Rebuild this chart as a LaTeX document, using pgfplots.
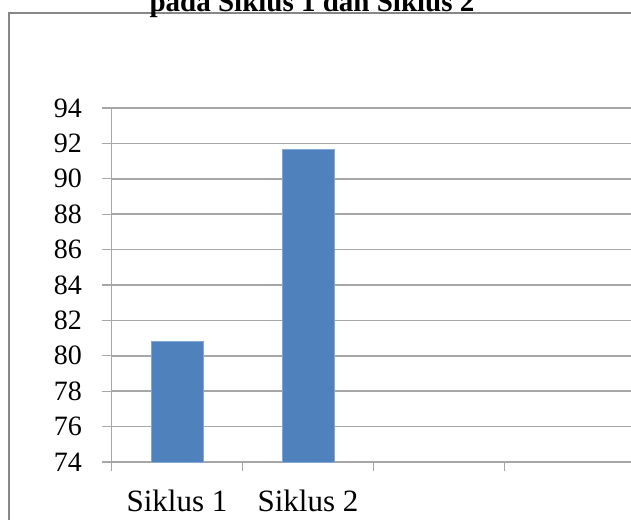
\documentclass[border=0pt]{standalone}
\usepackage{fontspec}
\setmainfont{Liberation Serif}
\usepackage{pgfplots}
\pgfplotsset{compat=1.18}
\definecolor{barblue}{HTML}{4F81BD}
\definecolor{gridgray}{HTML}{A6A6A6}
\definecolor{framegray}{HTML}{878787}

\begin{document}
\begin{tikzpicture}[x=1pt,y=1pt]
\useasboundingbox (0,0) rectangle (631,519);
\clip (0,0) rectangle (631,519);
% outer chart frame, runs off the right and bottom edge
\draw[framegray, line width=2pt] (8.5,-20) -- (8.5,506) -- (660,506);
% title, cut at the top
\node[anchor=base, font=\fontsize{29}{34}\selectfont\bfseries] at (312,507)
  {pada Siklus 1 dan Siklus 2};
\begin{axis}[
    at={(111.5pt,57pt)}, anchor=south west,
    scale only axis,
    width=524pt, height=354pt,
    xmin=0.5, xmax=4.5,
    ymin=74, ymax=94,
    ytick={74,76,...,94},
    xtick={1,2},
    xticklabels={Siklus 1,Siklus 2},
    minor xtick={0.5,1.5,2.5,3.5,4.5},
    major x tick style={draw=none},
    tick align=outside,
    tick pos=left,
    major tick length=9pt,
    minor tick length=9pt,
    tick style={gridgray, line width=1.2pt},
    ymajorgrids,
    grid style={gridgray, line width=1.5pt},
    axis line style={gridgray, line width=1.2pt},
    /pgf/number format/assume math mode=true,
    yticklabel style={font=\fontsize{28}{34}\selectfont, xshift=-17pt},
    xticklabel style={font=\fontsize{31}{36}\selectfont, yshift=-15pt},
    ybar, bar width=52pt,
]
\addplot[fill=barblue, draw=barblue!70!white, line width=0.6pt] coordinates {(1,80.82) (2,91.66)};
\end{axis}
\end{tikzpicture}
\end{document}
